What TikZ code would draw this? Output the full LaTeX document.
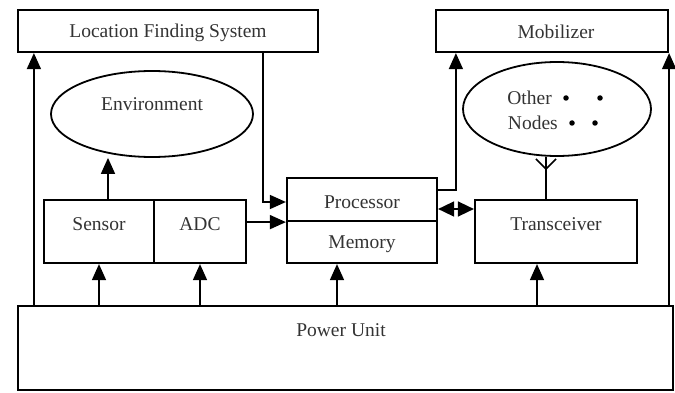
\documentclass[tikz,border=0pt]{standalone}
\usepackage{fontspec}
\setmainfont{Liberation Serif}
\usetikzlibrary{arrows.meta,shapes.geometric}
\begin{document}
\begin{tikzpicture}[x=1pt,y=-1pt,
  box/.style={draw=black,line width=2.2pt,rectangle,inner sep=0pt},
  oval/.style={draw=black,line width=1.8pt,ellipse,inner sep=0pt},
  lbl/.style={text=black!80,inner sep=0pt,font=\fontsize{19.5}{23}\selectfont},
  conn/.style={line width=1.6pt},
  arr/.style={conn,-{Triangle[length=16pt,width=14pt]}},
  dbl/.style={conn,{Triangle[length=16pt,width=15pt]}-{Triangle[length=16pt,width=15pt]}},
  dot/.style={fill=black,circle,inner sep=0pt,minimum size=5.5pt}]
\useasboundingbox (0,0) rectangle (675,393);
% boxes
\node[box,minimum width=300pt,minimum height=42pt] (lfs) at (168,31) {};
\node[box,minimum width=232pt,minimum height=42pt] (mob) at (552,31) {};
\node[oval,minimum width=202pt,minimum height=86pt] (env) at (152,114) {};
\node[oval,minimum width=188pt,minimum height=94pt] (oth) at (557,109) {};
\node[box,minimum width=110pt,minimum height=63pt] (sen) at (99,231.5) {};
\node[box,minimum width=92pt,minimum height=63pt] (adc) at (200,231.5) {};
\node[box,minimum width=150pt,minimum height=43pt] (proc) at (362,199.5) {};
\node[box,minimum width=150pt,minimum height=42pt] (mem) at (362,242) {};
\node[box,minimum width=162pt,minimum height=63pt] (trx) at (556,231.5) {};
\node[box,minimum width=655pt,minimum height=84pt] (pow) at (345.5,348) {};
% labels
\node[lbl] (tlfs) at (168,33) {Location Finding System};
\node[lbl] (tmob) at (556,32) {Mobilizer};
\node[lbl] (tenv) at (152,104) {Environment};
\node[lbl] (tsen) at (99,224) {Sensor};
\node[lbl] (tadc) at (200,224) {ADC};
\node[lbl] (tproc) at (362,202) {Processor};
\node[lbl] (tmem) at (362,244) {Memory};
\node[lbl] (ttrx) at (556,224) {Transceiver};
\node[lbl] (tpow) at (341,330) {Power Unit};
\node[lbl,anchor=east] (toth) at (552,98) {Other};
\node[lbl,anchor=east] (tnod) at (558,123) {Nodes};
\node[dot] (d1) at (566,98) {};
\node[dot] (d2) at (600,98) {};
\node[dot] (d3) at (572,123) {};
\node[dot] (d4) at (595,123) {};
% power connections
\draw[arr] ([xshift=17pt]pow.north west) -- ([xshift=17pt]lfs.south west);
\draw[arr] (sen.south |- pow.north) -- (sen.south);
\draw[arr] (adc.south |- pow.north) -- (adc.south);
\draw[arr] ([xshift=-25pt]mem.south |- pow.north) -- ([xshift=-25pt]mem.south);
\draw[arr] ([xshift=-19pt]trx.south |- pow.north) -- ([xshift=-19pt]trx.south);
\draw[arr] (mob.south east |- pow.north) -- (mob.south east);
% sensor to environment
\coordinate (sx) at ([xshift=9pt]sen.north);
\draw[arr] (sx) -- (sx |- env.south);
% location finding to processor
\coordinate (lx) at ([xshift=-56pt]lfs.south east);
\coordinate (py) at ([yshift=-2.5pt]proc.west);
\draw[arr] (lx) |- (py);
% adc to processor
\draw[arr] (adc.east |- proc.south west) -- (proc.south west);
% processor to mobilizer
\coordinate (pm) at ([yshift=9.5pt]proc.east);
\draw[arr] (pm) -| ([xshift=21pt]mob.south west);
% processor <-> transceiver
\coordinate (pt) at ([yshift=-9.5pt]proc.east);
\draw[dbl] (pt) -- (pt -| trx.west);
% antenna
\coordinate (ant) at ([xshift=-10pt]trx.north);
\coordinate (antm) at ([yshift=30pt]ant);
\draw[conn] (ant) -- ([yshift=42pt]ant);
\draw[conn] ([shift={(-10pt,40pt)}]ant) -- (antm) -- ([shift={(10pt,40pt)}]ant);
\end{tikzpicture}
\end{document}
